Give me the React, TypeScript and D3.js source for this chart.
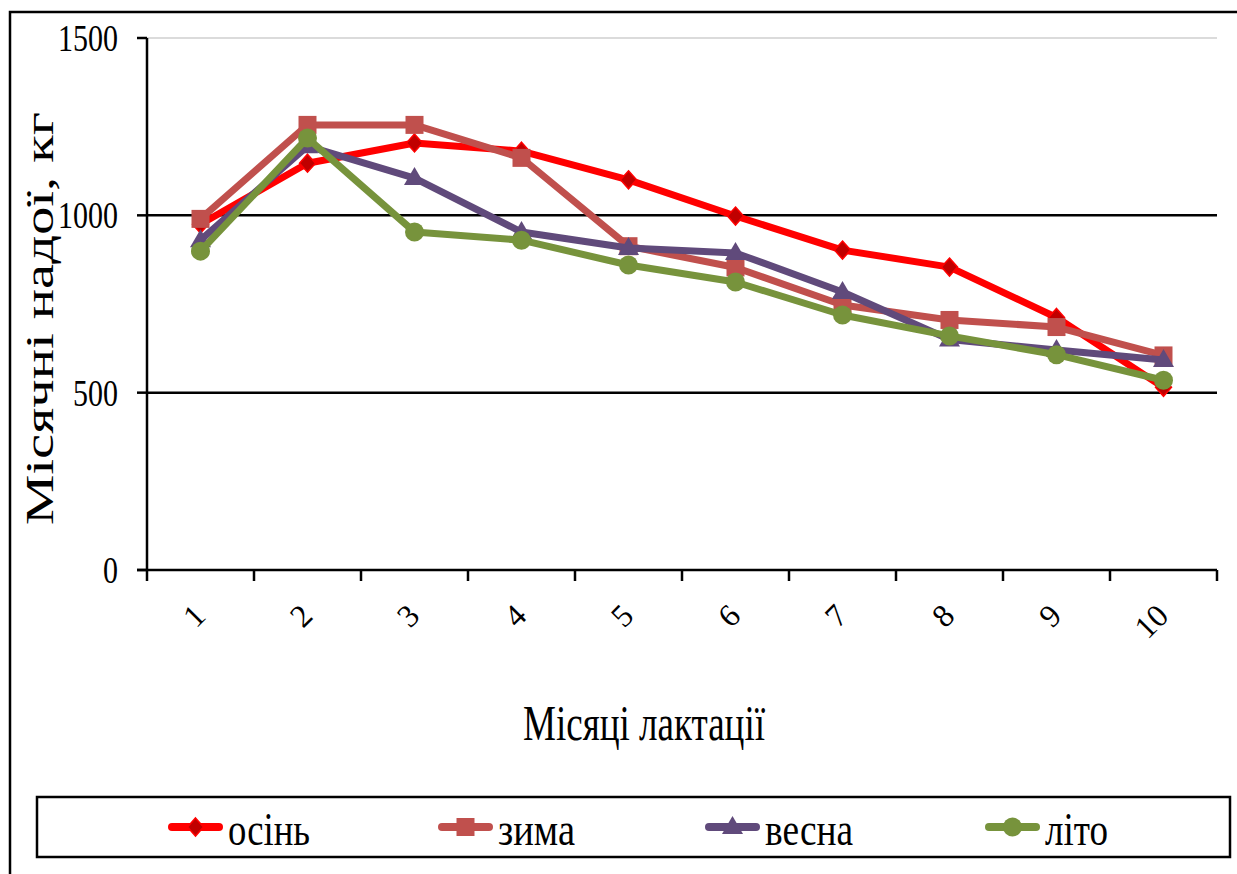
import { useEffect, useRef } from 'react';
import * as d3 from 'd3';

const months = ['1', '2', '3', '4', '5', '6', '7', '8', '9', '10'];
const autumn = [975, 1147, 1204, 1181, 1100, 998, 902, 854, 712, 515];
const winter = [990, 1255, 1255, 1162, 913, 853, 747, 705, 685, 605];
const spring = [930, 1195, 1105, 953, 908, 894, 784, 650, 620, 592];
const summer = [899, 1218, 953, 930, 860, 812, 719, 660, 607, 535];
const seriesNames = ['осінь', 'зима', 'весна', 'літо'];
const yTicks = [0, 500, 1000, 1500];

const W = 1237;
const H = 874;
const FONT = '"Liberation Serif", "Times New Roman", serif';

type Marker = 'diamond' | 'square' | 'triangle' | 'circle';

function markerPath(kind: Marker) {
  if (kind === 'diamond') return 'M0,-9L8,0L0,9L-8,0Z';
  if (kind === 'square') return 'M-9,-9H9V9H-9Z';
  if (kind === 'triangle') return 'M0,-11L10.5,7L-10.5,7Z';
  return d3.symbol(d3.symbolCircle, Math.PI * 9.5 * 9.5)()!;
}

export default function App() {
  const svgRef = useRef<SVGSVGElement>(null);

  useEffect(() => {
    if (!svgRef.current) return;
    const svg = d3.select(svgRef.current);
    svg.selectAll('*').remove();

    const series = [
      { name: seriesNames[0], values: autumn, color: '#ff0000', fill: '#c00000', marker: 'diamond' as Marker },
      { name: seriesNames[1], values: winter, color: '#c0504d', fill: '#c0504d', marker: 'square' as Marker },
      { name: seriesNames[2], values: spring, color: '#604a7b', fill: '#604a7b', marker: 'triangle' as Marker },
      { name: seriesNames[3], values: summer, color: '#77933c', fill: '#77933c', marker: 'circle' as Marker },
    ];

    const x = d3.scaleBand<string>().domain(months).range([147, 1217]).paddingInner(0).paddingOuter(0);
    const cx = (m: string) => x(m)! + x.bandwidth() / 2;
    const y = d3.scaleLinear().domain([0, 1500]).range([570, 38]);

    svg.append('rect').attr('width', W).attr('height', H).attr('fill', '#fff');

    // outer chart border
    svg.append('rect')
      .attr('x', 10).attr('y', 12).attr('width', 1400).attr('height', 1000)
      .attr('fill', 'none').attr('stroke', '#000').attr('stroke-width', 2.5);

    // gridlines
    yTicks.filter((t) => t > 0).forEach((t) => {
      const top = t === 1500;
      svg.append('line')
        .attr('x1', 147).attr('x2', 1217)
        .attr('y1', y(t)).attr('y2', y(t))
        .attr('stroke', top ? '#cfcfcf' : '#000')
        .attr('stroke-width', top ? 1.5 : 2.5);
    });

    // y axis
    svg.append('line').attr('x1', 147).attr('x2', 147).attr('y1', y(1500)).attr('y2', y(0))
      .attr('stroke', '#000').attr('stroke-width', 2.5);
    yTicks.forEach((t) => {
      svg.append('line').attr('x1', 137).attr('x2', 147).attr('y1', y(t)).attr('y2', y(t))
        .attr('stroke', '#000').attr('stroke-width', 2.5);
      const label = String(t);
      svg.append('text')
        .attr('x', 118).attr('y', y(t)).attr('dy', '0.34em')
        .attr('text-anchor', 'end')
        .attr('font-family', FONT).attr('font-size', 38)
        .attr('textLength', 15 * label.length).attr('lengthAdjust', 'spacingAndGlyphs')
        .text(label);
    });

    // x axis
    svg.append('line').attr('x1', 137).attr('x2', 1217).attr('y1', y(0)).attr('y2', y(0))
      .attr('stroke', '#000').attr('stroke-width', 2.5);
    months.forEach((m) => {
      svg.append('line').attr('x1', x(m)!).attr('x2', x(m)!).attr('y1', 570).attr('y2', 581)
        .attr('stroke', '#000').attr('stroke-width', 2.5);
    });
    svg.append('line').attr('x1', 1217).attr('x2', 1217).attr('y1', 570).attr('y2', 581)
      .attr('stroke', '#000').attr('stroke-width', 2.5);
    months.forEach((m) => {
      const ax = cx(m) - 1;
      svg.append('text')
        .attr('transform', `translate(${ax},610) rotate(-45)`)
        .attr('dy', '0.34em')
        .attr('text-anchor', 'end')
        .attr('font-family', FONT).attr('font-size', 32)
        .text(m);
    });

    // axis titles
    svg.append('text')
      .attr('x', 523).attr('y', 740)
      .attr('font-family', FONT).attr('font-size', 50)
      .attr('textLength', 242).attr('lengthAdjust', 'spacingAndGlyphs')
      .text('Місяці лактації');

    svg.append('g')
      .attr('transform', 'translate(53,525) scale(0.72,1)')
      .append('text')
      .attr('transform', 'rotate(-90)')
      .attr('font-family', FONT).attr('font-size', 56)
      .attr('textLength', 413).attr('lengthAdjust', 'spacingAndGlyphs')
      .text('Місячні надої, кг');

    // series
    const line = d3.line<number>()
      .x((_, i) => cx(months[i]))
      .y((d) => y(d));

    series.forEach((s) => {
      const g = svg.append('g');
      g.append('path')
        .datum(s.values)
        .attr('d', line)
        .attr('fill', 'none')
        .attr('stroke', s.color)
        .attr('stroke-width', 7)
        .attr('stroke-linejoin', 'round');
      g.selectAll('path.m')
        .data(s.values)
        .join('path')
        .attr('class', 'm')
        .attr('transform', (d, i) => `translate(${cx(months[i])},${y(d)})`)
        .attr('d', markerPath(s.marker))
        .attr('fill', s.fill)
        .attr('stroke', s.color)
        .attr('stroke-width', s.marker === 'diamond' ? 1.5 : 0);
    });

    // legend
    svg.append('rect')
      .attr('x', 37).attr('y', 797).attr('width', 1193).attr('height', 60)
      .attr('fill', '#fff').attr('stroke', '#000').attr('stroke-width', 2.5);

    const legendX = [168, 438, 705, 985];
    const legendW = [82, 77, 88, 63];
    series.forEach((s, i) => {
      const lx = legendX[i];
      svg.append('line')
        .attr('x1', lx + 4).attr('x2', lx + 51).attr('y1', 827).attr('y2', 827)
        .attr('stroke', s.color).attr('stroke-width', 8).attr('stroke-linecap', 'round');
      svg.append('path')
        .attr('transform', `translate(${lx + 27.5},827)`)
        .attr('d', markerPath(s.marker))
        .attr('fill', s.fill)
        .attr('stroke', s.color)
        .attr('stroke-width', s.marker === 'diamond' ? 1.5 : 0);
      svg.append('text')
        .attr('x', lx + 60).attr('y', 845)
        .attr('font-family', FONT).attr('font-size', 46)
        .attr('textLength', legendW[i]).attr('lengthAdjust', 'spacingAndGlyphs')
        .text(s.name);
    });
  }, []);

  return (
    <svg
      ref={svgRef}
      width={W}
      height={H}
      style={{ position: 'absolute', left: 0, top: 0, display: 'block' }}
    />
  );
}
